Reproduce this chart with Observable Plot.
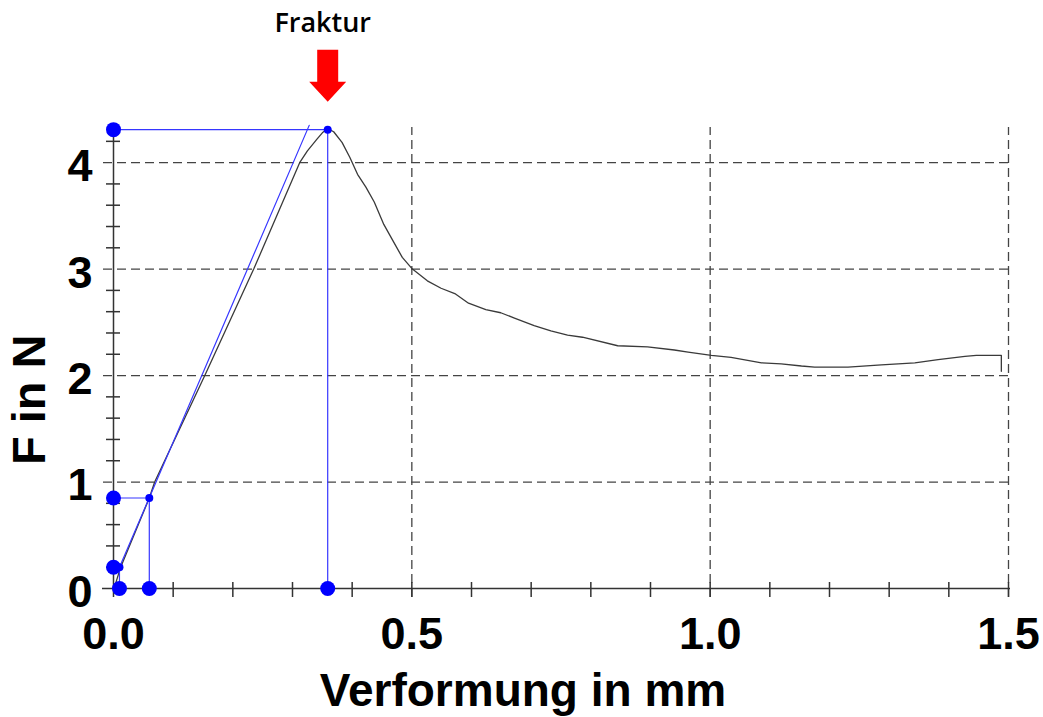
<!DOCTYPE html>
<html><head><meta charset="utf-8">
<script src="https://cdn.jsdelivr.net/npm/d3@7"></script>
<script src="https://cdn.jsdelivr.net/npm/@observablehq/plot@0.6"></script>
<style>html,body{margin:0;padding:0;background:#fff}#chart{position:absolute;left:0;top:0}</style>
</head><body><div id="chart"></div>
<script>
// Measured force-deformation curve (Verformung in mm, F in N)
const curveX = [0.002, 0.012, 0.060, 0.069, 0.153, 0.235, 0.312, 0.325, 0.341, 0.350, 0.359, 0.369, 0.383, 0.396,
  0.409, 0.423, 0.437, 0.453, 0.468, 0.484, 0.501, 0.526, 0.549, 0.572, 0.595, 0.624, 0.649, 0.672, 0.705, 0.733, 0.761, 0.786,
  0.845, 0.895, 0.940, 0.963, 1.002, 1.035, 1.086, 1.119, 1.153, 1.175, 1.231, 1.287, 1.343, 1.382, 1.427, 1.446, 1.488, 1.488];
const curveY = [0.02, 0.20, 0.85, 1.00, 2.00, 3.00, 4.00, 4.11, 4.22, 4.28, 4.32, 4.29, 4.19, 4.05,
  3.89, 3.77, 3.63, 3.42, 3.27, 3.11, 3.00, 2.89, 2.82, 2.77, 2.68, 2.62, 2.59, 2.54, 2.47, 2.42, 2.38, 2.36,
  2.28, 2.27, 2.24, 2.22, 2.19, 2.17, 2.12, 2.11, 2.09, 2.08, 2.08, 2.10, 2.12, 2.15, 2.18, 2.19, 2.19, 2.04];
// Evaluation markers (blue)
const markX = [0.010, 0.060, 0.359];
const markY = [0.20, 0.85, 4.31];
// Tangent (blue straight line)
const tangentX = [0.010, 0.328];
const tangentY = [0.20, 4.35];
// Axes
const xLabels = [0.0, 0.5, 1.0, 1.5];
const xTicks = [0.1, 0.2, 0.3, 0.4, 0.5, 0.6, 0.7, 0.8, 0.9, 1.0, 1.1, 1.2, 1.3, 1.4, 1.5];
const yLabels = [0, 1, 2, 3, 4];
const yGrid = [1, 2, 3, 4];
const yMinor = [0.2, 0.4, 0.6, 0.8, 1.2, 1.4, 1.6, 1.8, 2.2, 2.4, 2.6, 2.8, 3.2, 3.4, 3.6, 3.8, 4.2];
const xTitle = "Verformung in mm";
const yTitle = "F in N";
const peakLabel = "Fraktur";

const W = 1043, H = 717, mL = 113, mR = 35, mT = 127, mB = 129;
const xDom = [0, 1.5], yDom = [0, 4.33];
const kx = (W - mL - mR) / (xDom[1] - xDom[0]);
const ky = (H - mT - mB) / (yDom[1] - yDom[0]);
const px = p => p / kx, py = p => p / ky;
const font = "'Liberation Sans', Arial, Helvetica, sans-serif";
const axisColor = "#333";
const gridColor = "#444";
const blueLine = "#3636ff";
const blueDot = "#0000ff";
const idx = d3.range(markX.length);
const peak = markX.length - 1;

const blockArrow = {
  draw(ctx, l) {
    const sw = 10.5, hw = 18.5, hl = 20;
    ctx.moveTo(-sw, 0);
    ctx.lineTo(-sw, -(l - hl));
    ctx.lineTo(-hw, -(l - hl));
    ctx.lineTo(0, -l);
    ctx.lineTo(hw, -(l - hl));
    ctx.lineTo(sw, -(l - hl));
    ctx.lineTo(sw, 0);
    ctx.closePath();
  }
};

const chart = Plot.plot({
  width: W, height: H,
  marginLeft: mL, marginRight: mR, marginTop: mT, marginBottom: mB,
  x: {domain: xDom, axis: null},
  y: {domain: yDom, axis: null},
  style: {background: "white", overflow: "visible"},
  marks: [
    // dashed grid
    Plot.ruleX(xLabels.slice(1), {y1: () => -py(9), y2: () => yDom[1], stroke: gridColor, strokeWidth: 1.3, strokeDasharray: "9,5"}),
    Plot.ruleY(yGrid, {x1: () => -px(10), x2: () => xDom[1] + px(2), stroke: gridColor, strokeWidth: 1.3, strokeDasharray: "9,5"}),
    // axes lines
    Plot.ruleY([0], {x1: () => -px(11), x2: () => xDom[1] + px(2), stroke: axisColor, strokeWidth: 1.5}),
    Plot.ruleX([0], {y1: () => -py(9), y2: () => 4.31, stroke: axisColor, strokeWidth: 1.5}),
    // ticks crossing the axes
    Plot.ruleX(xTicks, {y1: () => -py(9), y2: () => py(6), stroke: axisColor, strokeWidth: 1.5}),
    Plot.ruleY(yMinor, {x1: () => -px(7), x2: () => px(7), stroke: axisColor, strokeWidth: 1.5}),
    // tick labels
    Plot.text(xLabels, {x: d => d, y: () => 0, text: d => d.toFixed(1), dy: 46, fontSize: 45, fontWeight: "bold", fontFamily: font, fill: "black"}),
    Plot.text(yLabels, {x: () => 0, y: d => d, text: d => String(d), dx: -21, dy: 4, textAnchor: "end", fontSize: 45, fontWeight: "bold", fontFamily: font, fill: "black"}),
    // axis titles
    Plot.text([xTitle], {frameAnchor: "bottom", text: d => d, dx: -38, dy: 117, fontSize: 46, fontWeight: "bold", fontFamily: font, fill: "black"}),
    Plot.text([yTitle], {frameAnchor: "left", text: d => d, rotate: -90, dx: -84, dy: 107, fontSize: 47, fontWeight: "bold", fontFamily: font, fill: "black"}),
    // measured curve
    Plot.line({length: curveX.length}, {x: curveX, y: curveY, stroke: "#3a3a3a", strokeWidth: 1.3}),
    // tangent
    Plot.line({length: tangentX.length}, {x: tangentX, y: tangentY, stroke: blueLine, strokeWidth: 1.2}),
    // marker lines
    Plot.ruleY(idx, {y: i => markY[i], x1: () => 0, x2: i => markX[i], stroke: blueLine, strokeWidth: 1.2}),
    Plot.ruleX(idx, {x: i => markX[i], y1: () => 0, y2: i => markY[i], stroke: blueLine, strokeWidth: 1.2}),
    // marker dots
    Plot.dot(idx, {x: () => 0, y: i => markY[i], r: 7.5, fill: blueDot, stroke: "none"}),
    Plot.dot(idx, {x: i => markX[i], y: () => 0, r: 7.5, fill: blueDot, stroke: "none"}),
    Plot.dot(idx, {x: i => markX[i], y: i => markY[i], r: 4, fill: blueDot, stroke: "none"}),
    // fracture annotation
    Plot.vector([peak], {x: i => markX[i], y: i => markY[i], length: 52, rotate: 180, anchor: "end", dy: -28, shape: blockArrow, fill: "#ff0000", stroke: "none"}),
    Plot.text([peak], {x: i => markX[i], y: i => markY[i], text: () => peakLabel, dx: -5, dy: -106, fontSize: 27, fontWeight: 600, fontFamily: "'Open Sans', 'Noto Sans', sans-serif", fill: "black"})
  ]
});
document.getElementById("chart").appendChild(chart);
</script>
</body></html>
